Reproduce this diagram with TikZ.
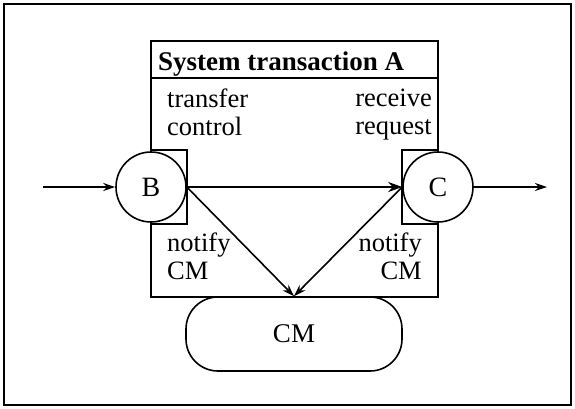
\documentclass[tikz,border=0pt]{standalone}
\usepackage{fontspec}
\setmainfont{Liberation Serif}
\usetikzlibrary{arrows.meta,shapes.misc}
\begin{document}
\begin{tikzpicture}[x=1pt,y=-1pt,
  line/.style={line width=1.6pt},
  arr/.style={line, -{Stealth[length=12pt,width=8pt]}},
  thickarr/.style={line width=2.6pt, -{Stealth[length=14pt,width=10pt]}},
  lbl/.style={font=\fontsize{26.5}{28}\selectfont, inner sep=0pt},
  port/.style={circle, draw, line width=1.6pt, fill=white, minimum size=70pt, inner sep=0pt, font=\fontsize{28}{28}\selectfont}
]
\useasboundingbox (0,0) rectangle (575,408);
% outer frame
\draw[line width=1.8pt] (4,4) rectangle (571,405);
% system transaction box
\draw[line] (151,41) rectangle (438,297);
\draw[line] (151,78) -- (438,78);
\node[lbl, anchor=base west, font=\bfseries\fontsize{27}{28}\selectfont] (title) at (158,70) {System transaction A};
% squares behind ports
\draw[line] (151,150) rectangle (187,224);
\draw[line] (402,150) rectangle (438,224);
% ports
\node[port] (B) at (151,187) {B};
\node[port] (C) at (438,187) {C};
% CM
\node[draw, line width=1.6pt, rounded corners=32pt, minimum width=216pt, minimum height=74pt, font=\fontsize{27}{28}\selectfont] (CM) at (294,334) {CM};
\coordinate (in) at (43,187);
\coordinate (out) at (547,187);
\draw[arr] (in) -- (B);
\draw[arr] (C) -- (out);
\draw[thickarr] (B.east) -- (C.west);
\draw[arr] (B.east) -- (CM.north);
\draw[arr] (C.west) -- (CM.north);
% labels
\node[lbl, align=left, anchor=north west] (tc) at (167,89) {transfer\\control};
\node[lbl, align=right, anchor=north east] (rr) at (432,89) {receive\\request};
\node[lbl, align=left, anchor=north west] (n1) at (167,233) {notify\\CM};
\node[lbl, align=right, anchor=north east] (n2) at (422,233) {notify\\CM};
\end{tikzpicture}
\end{document}
